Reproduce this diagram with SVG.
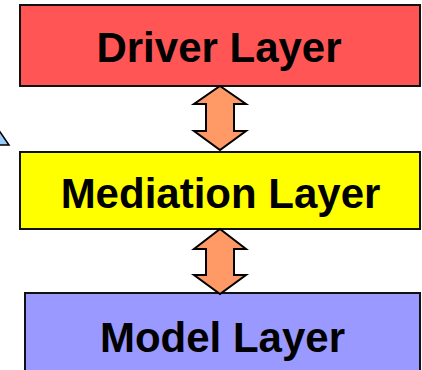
<svg xmlns="http://www.w3.org/2000/svg" width="422" height="370" viewBox="0 0 422 370">
<style>
.box{stroke:#111;stroke-width:2}
.lbl{font-family:"Liberation Sans",Arial,sans-serif;font-weight:bold;font-size:42px;fill:#000;text-anchor:middle}
.arr{fill:#ff9966;stroke:#000;stroke-width:2;stroke-linejoin:miter}
</style>
<rect width="422" height="370" fill="#fff"/>
<polygon points="-2,129 9,145 -2,145" fill="#99ccff" stroke="#000" stroke-width="1.5"/>
<g id="driver"><rect class="box" x="20" y="5" width="400" height="81" fill="#ff5555"/><text class="lbl" x="219" y="62">Driver Layer</text></g>
<g id="mediation"><rect class="box" x="20" y="152" width="400" height="77" fill="#ffff00"/><text class="lbl" x="220.5" y="208">Mediation Layer</text></g>
<g id="model"><rect class="box" x="25" y="293" width="395" height="82" fill="#9999ff"/><text class="lbl" x="222.5" y="352">Model Layer</text></g>
<g id="connectors">
<polygon class="arr" points="220,86 246,104 234,104 234,131 246,131 220,150 194,131 206,131 206,104 194,104"/>
<polygon class="arr" points="220,229 246,249 234,249 234,275 246,275 220,294 194,275 206,275 206,249 194,249"/>
</g>
</svg>
